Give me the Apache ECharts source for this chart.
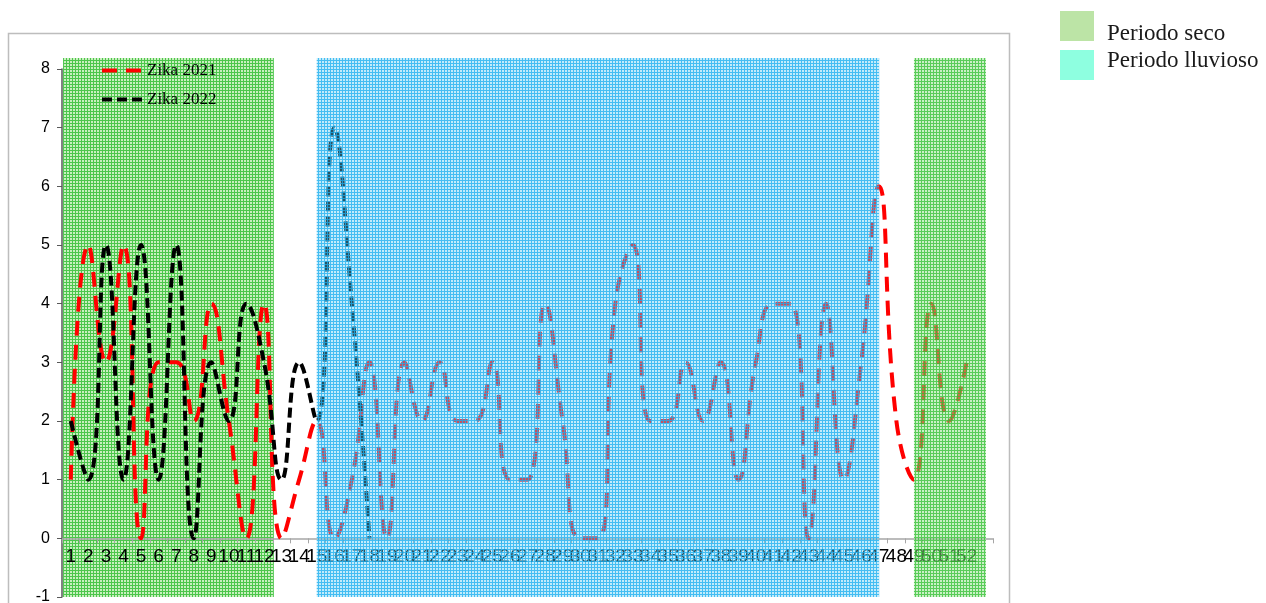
<!DOCTYPE html>
<html>
<head>
<meta charset="utf-8">
<script src="https://cdn.jsdelivr.net/npm/echarts@6/dist/echarts.min.js"></script>
<style>html,body{margin:0;padding:0;background:#fff}#c{width:1266px;height:603px}</style>
</head>
<body>
<div id="c"></div>
<script>
// ---- data ----
const weeks = ['1','2','3','4','5','6','7','8','9','10','11','12','13','14','15','16','17','18','19','20','21','22','23','24','25','26','27','28','29','30','31','32','33','34','35','36','37','38','39','40','41','42','43','44','45','46','47','48','49','50','51','52',''];
const zika2021 = [1,5,3,5,0,3,3,2,4,2,0,4,0,1,2,0,1,3,0,3,2,3,2,2,3,1,1,4,2,0,0,4,5,2,2,3,2,3,1,3,4,4,0,4,1,3,6,2,1,4,2,3];
const zika2022 = [2,1,5,1,5,1,5,0,3,2,4,3,1,3,2,7,4,0];
// period bands, in week-axis units (0 = left edge of week 1)
const dryBand1 = [0.06, 12.06];
const rainyBand = [14.5, 46.52];
const dryBand2 = [48.5, 52.6];
const yRange = [-1, 8];

const GRID_TOP = 69, GRID_BOTTOM = 6, H = 603;
const unitPx = (H - GRID_TOP - GRID_BOTTOM) / (yRange[1] - yRange[0]);

function makePattern(cell, line) {
  const c = document.createElement('canvas');
  c.width = 3; c.height = 3;
  const g = c.getContext('2d');
  g.fillStyle = cell; g.fillRect(1, 1, 2, 2);
  g.fillStyle = line; g.fillRect(0, 0, 3, 1); g.fillRect(0, 1, 1, 2);
  return { image: c, repeat: 'repeat' };
}
const greenBack = makePattern('#c9efbf', '#4cc64c');
const greenFront = makePattern('rgba(150,225,140,0.5)', 'rgba(60,195,60,0.85)');
const blueFront = makePattern('rgba(100,205,245,0.4)', 'rgba(35,178,240,0.85)');

function band(r) { return [[{ xAxis: r[0], yAxis: 0 }, { xAxis: r[1], yAxis: 1 }]]; }

const axisFont = "'Liberation Sans Narrow', 'Liberation Sans'";

const chart = echarts.init(document.getElementById('c'), null, { renderer: 'canvas' });
chart.setOption({
  animation: false,
  graphic: [{
    type: 'rect', z: -10, silent: true,
    shape: { x: 8.5, y: 33.5, width: 1001, height: 620 },
    style: { fill: 'none', stroke: '#bdbdbd', lineWidth: 1.5 }
  }],
  legend: [{
    data: ['Zika 2021', 'Zika 2022'],
    orient: 'vertical', left: 100, top: 62, padding: 0,
    itemWidth: 40, itemHeight: 14, itemGap: 12,
    itemStyle: { opacity: 0 },
    lineStyle: { width: 4 },
    textStyle: { fontFamily: 'Liberation Serif', fontSize: 17, color: '#000' }
  }, {
    data: ['Periodo seco', 'Periodo lluvioso'],
    orient: 'vertical', left: 1060, top: 11, padding: 0,
    itemWidth: 34, itemHeight: 30, itemGap: 4, icon: 'rect',
    formatter: function (name) { return name === 'Periodo seco' ? '{a|' + name + '}' : '{b|' + name + '}'; },
    textStyle: {
      fontFamily: 'Liberation Serif', fontSize: 23, color: '#1a1a1a',
      rich: {
        a: { fontFamily: 'Liberation Serif', fontSize: 23, color: '#1a1a1a', padding: [16, 0, 0, 8] },
        b: { fontFamily: 'Liberation Serif', fontSize: 23, color: '#1a1a1a', padding: [0, 0, 8, 8] }
      }
    }
  }],
  grid: [
    { left: 62, right: 273, top: GRID_TOP, bottom: GRID_BOTTOM, containLabel: false, outerBoundsMode: 'none' },
    { left: 62, right: 273, top: 58, bottom: GRID_BOTTOM, containLabel: false, outerBoundsMode: 'none' }
  ],
  xAxis: [{
    type: 'category', data: weeks, gridIndex: 0, z: 2,
    offset: -unitPx * (0 - yRange[0]),
    axisLine: { onZero: false, lineStyle: { color: '#a6a6a6', width: 1.5 } },
    axisTick: { show: true, alignWithLabel: false, interval: 0, length: 5, lineStyle: { color: '#a6a6a6' } },
    axisLabel: { interval: 0, margin: 9, fontFamily: axisFont, fontSize: 19, color: '#000' },
    splitLine: { show: false }
  }, {
    type: 'value', gridIndex: 1, min: 0, max: 53, show: false
  }],
  yAxis: [{
    type: 'value', gridIndex: 0, min: yRange[0], max: yRange[1], interval: 1, z: 2,
    axisLine: { show: true, onZero: false, lineStyle: { color: '#595959', width: 1.5 } },
    axisTick: { show: true, length: 5, lineStyle: { color: '#595959' } },
    axisLabel: { margin: 12, fontFamily: axisFont, fontSize: 16, color: '#000' },
    splitLine: { show: false }
  }, {
    type: 'value', gridIndex: 1, min: 0, max: 1, show: false
  }],
  series: [{
    name: 'Zika 2021', type: 'line', data: zika2021, smooth: 0.5, symbol: 'none', z: 2,
    itemStyle: { color: '#ff0000' },
    lineStyle: { color: '#ff0000', width: 4, type: [15, 9] }
  }, {
    name: 'Zika 2022', type: 'line', data: zika2022, smooth: 0.5, symbol: 'none', z: 2,
    itemStyle: { color: '#000000' },
    lineStyle: { color: '#000000', width: 4, type: [10, 5] }
  }, {
    name: 'Periodo seco', type: 'line', xAxisIndex: 1, yAxisIndex: 1, data: [], symbol: 'none',
    color: '#bce4a6', itemStyle: { color: '#bce4a6' }, lineStyle: { color: '#bce4a6' },
    markArea: { silent: true, z: 1, itemStyle: { color: greenBack }, data: band(dryBand1) }
  }, {
    name: 'Periodo lluvioso', type: 'line', xAxisIndex: 1, yAxisIndex: 1, data: [], symbol: 'none',
    color: '#8effe0', itemStyle: { color: '#8effe0' }, lineStyle: { color: '#8effe0' },
    markArea: { silent: true, z: 3, itemStyle: { color: blueFront }, data: band(rainyBand) }
  }, {
    name: 'Periodo seco', type: 'line', xAxisIndex: 1, yAxisIndex: 1, data: [], symbol: 'none',
    color: '#bce4a6', itemStyle: { color: '#bce4a6' }, lineStyle: { color: '#bce4a6' },
    markArea: { silent: true, z: 3, itemStyle: { color: greenFront }, data: band(dryBand2) }
  }]
});
</script>
</body>
</html>
